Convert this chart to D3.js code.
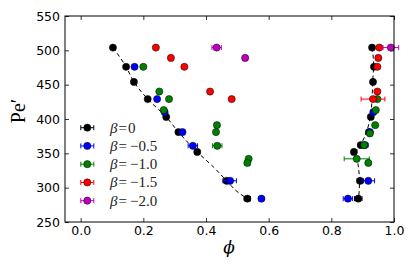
<!DOCTYPE html>
<html lang="en">
<head>
    <meta charset="utf-8">
    <title>pe vs phi</title>
    <script src="https://cdn.jsdelivr.net/npm/d3@7/dist/d3.min.js"></script>
</head>
<style>
body { margin: 0; background: #fff; }
.tick text { font-family: "DejaVu Sans", sans-serif; font-size: 12.5px; fill: #000; }
.tick line { stroke: #000; stroke-width: 0.8px; }
.fit { fill: none; stroke: #000; stroke-width: 1px; stroke-dasharray: 4,3; }
</style>
<body>
<script type="text/javascript">
    // data
    var betaLabels = ["0", "\u22120.5", "\u22121.0", "\u22121.5", "\u22122.0"];
    var colors = ["#000000", "#0000ff", "#008000", "#ff0000", "#bf00bf"];

    var phi0  = [0.103, 0.145, 0.170, 0.214, 0.273, 0.312, 0.372, 0.466, 0.532, 0.930, 0.936, 0.933, 0.926, 0.920, 0.894, 0.872, 0.892, 0.886];
    var pe0   = [504, 476, 454, 429, 403, 381, 352, 310, 284, 504, 476, 454, 403, 381, 362, 352, 310, 284];
    var err0  = [0.005, 0.005, 0.005, 0.005, 0.005, 0.005, 0.008, 0.012, 0.010, 0.005, 0.005, 0.005, 0.005, 0.005, 0.008, 0.006, 0.010, 0.012];

    var phi05 = [0.172, 0.244, 0.268, 0.325, 0.358, 0.477, 0.577, 0.934, 0.923, 0.907, 0.918, 0.853];
    var pe05  = [476, 429, 410, 381, 361, 310, 284, 410, 381, 362, 310, 284];
    var err05 = [0.004, 0.004, 0.004, 0.004, 0.015, 0.020, 0.004, 0.004, 0.004, 0.010, 0.020, 0.015];

    var phi10 = [0.200, 0.251, 0.282, 0.265, 0.435, 0.432, 0.436, 0.536, 0.532, 0.947, 0.942, 0.940, 0.923, 0.905, 0.881, 0.918];
    var pe10  = [476, 440, 429, 413, 391, 381, 361, 342, 336, 429, 413, 391, 379, 362, 342, 336];
    var err10 = [0.004, 0.004, 0.004, 0.004, 0.005, 0.004, 0.015, 0.005, 0.008, 0.004, 0.004, 0.004, 0.004, 0.005, 0.040, 0.004];

    var phi15 = [0.240, 0.288, 0.331, 0.413, 0.482, 0.953, 0.950, 0.947, 0.947, 0.933];
    var pe15  = [504, 489, 476, 440, 429, 504, 489, 476, 440, 429];
    var err15 = [0.004, 0.004, 0.004, 0.004, 0.004, 0.004, 0.004, 0.004, 0.004, 0.038];

    var phi20 = [0.434, 0.525, 0.990];
    var pe20  = [504, 489, 504];
    var err20 = [0.015, 0.004, 0.025];

    // dashed guide lines
    var fitLeftPhi  = [0.103, 0.145, 0.170, 0.214, 0.273, 0.312, 0.372, 0.424, 0.466, 0.503, 0.532];
    var fitLeftPe   = [504, 476, 454, 429, 403, 381, 352, 330, 310, 293, 284];
    var fitRightPhi = [0.930, 0.935, 0.932, 0.930, 0.925, 0.915, 0.900, 0.880, 0.885, 0.890, 0.887];
    var fitRightPe  = [504, 479, 455, 430, 405, 385, 368, 352, 335, 310, 284];

    var xTicks = [0.0, 0.2, 0.4, 0.6, 0.8, 1.0];
    var yTicks = [250, 300, 350, 400, 450, 500, 550];

    var series = [
        {phi: phi0, pe: pe0, err: err0},
        {phi: phi05, pe: pe05, err: err05},
        {phi: phi10, pe: pe10, err: err10},
        {phi: phi15, pe: pe15, err: err15},
        {phi: phi20, pe: pe20, err: err20}
    ];

    var width = 415, height = 277;
    var pLeft = 65, pRight = 394, pTop = 16, pBottom = 222;

    var svg = d3.select("body").append("svg")
            .attr("width", width)
            .attr("height", height);

    var x = d3.scaleLinear().domain([-0.05, 1.0]).range([pLeft, pRight]);
    var y = d3.scaleLinear().domain([250, 550]).range([pBottom, pTop]);

    // axes, ticks pointing inward
    svg.append("g").attr("transform", "translate(0," + pBottom + ")")
        .call(d3.axisBottom(x).tickValues(xTicks).tickFormat(d3.format(".1f"))
            .tickSizeInner(-4).tickSizeOuter(0).tickPadding(4));
    svg.append("g").attr("transform", "translate(0," + pTop + ")")
        .call(d3.axisTop(x).tickValues(xTicks).tickFormat("")
            .tickSizeInner(-4).tickSizeOuter(0));
    svg.append("g").attr("transform", "translate(" + pLeft + ",0)")
        .call(d3.axisLeft(y).tickValues(yTicks).tickFormat(d3.format("d"))
            .tickSizeInner(-4).tickSizeOuter(0).tickPadding(5));
    svg.append("g").attr("transform", "translate(" + pRight + ",0)")
        .call(d3.axisRight(y).tickValues(yTicks).tickFormat("")
            .tickSizeInner(-4).tickSizeOuter(0));
    svg.selectAll(".domain").remove();

    var line = d3.line().x(function(d) { return x(d[0]); }).y(function(d) { return y(d[1]); })
        .curve(d3.curveMonotoneY);
    svg.append("path").attr("class", "fit")
        .attr("d", line(d3.zip(fitLeftPhi, fitLeftPe)));
    svg.append("path").attr("class", "fit")
        .attr("d", line(d3.zip(fitRightPhi, fitRightPe)));

    // error bars + markers
    function drawPoint(g, px, py, e, col) {
        var x0 = x(px - e), x1 = x(px + e), yy = y(py);
        g.append("line").attr("x1", x0).attr("x2", x1).attr("y1", yy).attr("y2", yy)
            .attr("stroke", col).attr("stroke-width", 1);
        [x0, x1].forEach(function(xc) {
            g.append("line").attr("x1", xc).attr("x2", xc).attr("y1", yy - 2.5).attr("y2", yy + 2.5)
                .attr("stroke", col).attr("stroke-width", 1);
        });
        g.append("circle").attr("cx", x(px)).attr("cy", yy).attr("r", 3.6)
            .attr("fill", col).attr("stroke", "#000").attr("stroke-width", 0.5);
    }

    series.forEach(function(s, k) {
        var g = svg.append("g");
        s.phi.forEach(function(p, i) {
            drawPoint(g, p, s.pe[i], s.err[i], colors[k]);
        });
    });

    // frame
    svg.append("rect").attr("x", pLeft).attr("y", pTop)
        .attr("width", pRight - pLeft).attr("height", pBottom - pTop)
        .attr("fill", "none").attr("stroke", "#000").attr("stroke-width", 1);

    // legend
    var leg = svg.append("g");
    betaLabels.forEach(function(b, k) {
        var ly = 127.7 + k * 18.25;
        var lx = 87.3;
        leg.append("line").attr("x1", lx - 6.5).attr("x2", lx + 6.5).attr("y1", ly).attr("y2", ly)
            .attr("stroke", colors[k]).attr("stroke-width", 1);
        [lx - 6.5, lx + 6.5].forEach(function(xc) {
            leg.append("line").attr("x1", xc).attr("x2", xc).attr("y1", ly - 2.5).attr("y2", ly + 2.5)
                .attr("stroke", colors[k]).attr("stroke-width", 1);
        });
        leg.append("circle").attr("cx", lx).attr("cy", ly).attr("r", 3.6)
            .attr("fill", colors[k]).attr("stroke", "#000").attr("stroke-width", 0.5);
        var t = leg.append("text").attr("x", 110).attr("y", ly + 5)
            .attr("font-family", "'Liberation Serif', serif").attr("font-size", "15px")
            .attr("fill", "#222");
        t.append("tspan").attr("font-style", "italic").text("\u03b2");
        t.append("tspan").attr("dx", 1).text("=");
        t.append("tspan").attr("dx", k === 0 ? 1 : 3).text(b);
    });

    // axis labels
    svg.append("text").attr("transform", "translate(25,111) rotate(-90)")
        .attr("text-anchor", "middle")
        .attr("font-family", "'Liberation Serif', serif").attr("font-size", "20px")
        .text("Pe\u2032");
    svg.append("text").attr("x", 229).attr("y", 253)
        .attr("text-anchor", "middle").attr("font-style", "italic")
        .attr("font-family", "'DejaVu Serif', serif").attr("font-size", "17px")
        .text("\u03d5");
</script>
</body>
</html>
